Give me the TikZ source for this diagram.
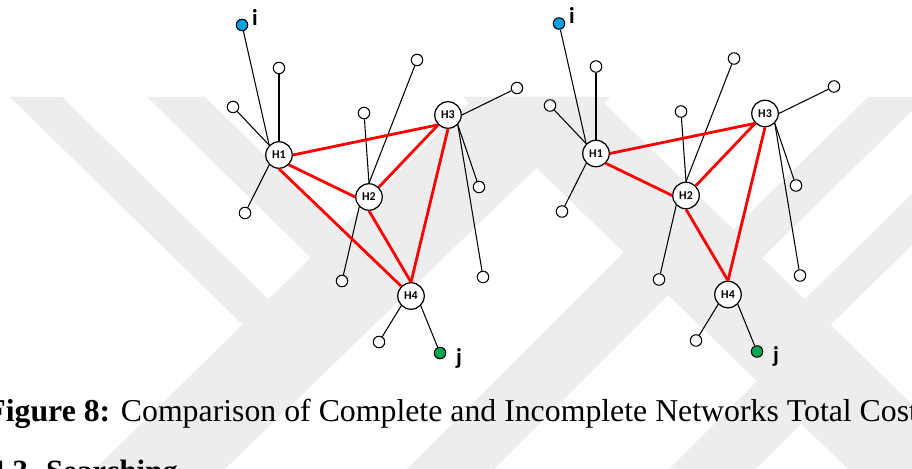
\documentclass[tikz,border=0pt]{standalone}
\usepackage{fontspec}
\setmainfont{Liberation Serif}
\newfontfamily\calibri{Carlito}
\definecolor{srcblue}{RGB}{0,160,225}
\definecolor{dstgreen}{RGB}{0,166,80}

\begin{document}
\begin{tikzpicture}[x=0.02cm,y=-0.02cm,
  hub/.style={circle,draw,fill=white,line width=0.7pt,minimum size=0.53cm,inner sep=0pt,
    font=\calibri\bfseries\fontsize{6.8}{7}\selectfont},
  leaf/.style={circle,draw,fill=white,line width=0.6pt,minimum size=0.23cm,inner sep=0pt},
  src/.style={leaf,fill=srcblue},
  dst/.style={leaf,fill=dstgreen},
  tag/.style={inner sep=0pt,font=\calibri\bfseries\fontsize{13}{14}\selectfont},
  spoke/.style={line width=0.6pt},
  link/.style={red,line width=1.6pt},
  wmark/.style={fill=black!7}]
  \useasboundingbox (0,0) rectangle (912,469);
  \clip (0,0) rectangle (912,469);

  % background watermark bands
  \fill[wmark] (475,97) -- (610,97) -- (225,469) -- (95,469) -- cycle;
  \fill[wmark] (10,97) -- (62,97) -- (310,340) -- (258,340) -- cycle;
  \fill[wmark] (147,97) -- (205,97) -- (371,260) -- (313,260) -- cycle;
  \fill[wmark] (463,97) -- (598,97) -- (978,469) -- (848,469) -- cycle;
  \fill[wmark] (868,97) -- (926,97) -- (760,260) -- (702,260) -- cycle;
  \fill[wmark] (1011,97) -- (1063,97) -- (815,340) -- (763,340) -- cycle;
  \fill[wmark] (407,469) -- (494,469) -- (733,230) -- (646,230) -- cycle;
  \fill[wmark] (669,469) -- (756,469) -- (855,370) -- (768,370) -- cycle;

  % complete network
  \begin{scope}[name prefix=c-]
    \node[hub] (H1) at (279,155) {H1};
    \node[hub] (H2) at (369,197) {H2};
    \node[hub] (H3) at (448,115) {H3};
    \node[hub] (H4) at (411,296) {H4};
    \node[src] (i) at (242,25) {};
    \node[dst] (j) at (440,353) {};
    \node[tag] (ti) at (255,17) {i};
    \node[tag] (tj) at (459,358) {j};
    \node[leaf] (a1) at (279,68) {};
    \node[leaf] (a2) at (233,107) {};
    \node[leaf] (a3) at (245,213) {};
    \node[leaf] (b1) at (417,60) {};
    \node[leaf] (b2) at (364,113) {};
    \node[leaf] (b3) at (342,281) {};
    \node[leaf] (c1) at (517,88) {};
    \node[leaf] (c2) at (479,187) {};
    \node[leaf] (c3) at (483,277) {};
    \node[leaf] (d1) at (379,342) {};
    \draw[spoke] (i) -- (H1.north west);
    \draw[spoke] (a1) -- (H1.north);
    \draw[spoke] (a2) -- (H1.north west);
    \draw[spoke] (a3) -- (H1.south west);
    \draw[spoke] (b1) -- (H2.north);
    \draw[spoke] (b2) -- (H2.north);
    \draw[spoke] (b3) -- (H2.south west);
    \draw[spoke] (c1) -- (H3.east);
    \draw[spoke] (c2) -- (H3.south east);
    \draw[spoke] (c3) -- (H3.south east);
    \draw[spoke] (d1) -- (H4.south west);
    \draw[spoke] (j) -- (H4.south east);
    \draw[link] (H1.east) -- (H3.south west);
    \draw[link] (H1.south east) -- (H2.west);
    \draw[link] (H1.south) -- (H4.north west);
    \draw[link] (H2.north east) -- (H3.south west);
    \draw[link] (H2.south) -- (H4.north);
    \draw[link] (H3.south) -- (H4.north);
  \end{scope}

  % incomplete network, no H1-H4 link
  \begin{scope}[shift={(317,-1.5)},name prefix=p-]
    \node[hub] (H1) at (279,155) {H1};
    \node[hub] (H2) at (369,197) {H2};
    \node[hub] (H3) at (448,115) {H3};
    \node[hub] (H4) at (411,296) {H4};
    \node[src] (i) at (242,25) {};
    \node[dst] (j) at (440,353) {};
    \node[tag] (ti) at (255,17) {i};
    \node[tag] (tj) at (459,358) {j};
    \node[leaf] (a1) at (279,68) {};
    \node[leaf] (a2) at (233,107) {};
    \node[leaf] (a3) at (245,213) {};
    \node[leaf] (b1) at (417,60) {};
    \node[leaf] (b2) at (364,113) {};
    \node[leaf] (b3) at (342,281) {};
    \node[leaf] (c1) at (517,88) {};
    \node[leaf] (c2) at (479,187) {};
    \node[leaf] (c3) at (483,277) {};
    \node[leaf] (d1) at (379,342) {};
    \draw[spoke] (i) -- (H1.north west);
    \draw[spoke] (a1) -- (H1.north);
    \draw[spoke] (a2) -- (H1.north west);
    \draw[spoke] (a3) -- (H1.south west);
    \draw[spoke] (b1) -- (H2.north);
    \draw[spoke] (b2) -- (H2.north);
    \draw[spoke] (b3) -- (H2.south west);
    \draw[spoke] (c1) -- (H3.east);
    \draw[spoke] (c2) -- (H3.south east);
    \draw[spoke] (c3) -- (H3.south east);
    \draw[spoke] (d1) -- (H4.south west);
    \draw[spoke] (j) -- (H4.south east);
    \draw[link] (H1.east) -- (H3.south west);
    \draw[link] (H1.south east) -- (H2.west);
    \draw[link] (H2.north east) -- (H3.south west);
    \draw[link] (H2.south) -- (H4.north);
    \draw[link] (H3.south) -- (H4.north);
  \end{scope}

  \node[anchor=base west,inner sep=0pt,font=\fontsize{18.1}{20}\selectfont] (caption) at (-14,421)
    {\textbf{Figure 8:} Comparison of Complete and Incomplete Networks Total Cost};
  \node[anchor=base west,inner sep=0pt,font=\bfseries\fontsize{17.6}{20}\selectfont] (section) at (-11,481)
    {4.3. Searching};
\end{tikzpicture}
\end{document}
